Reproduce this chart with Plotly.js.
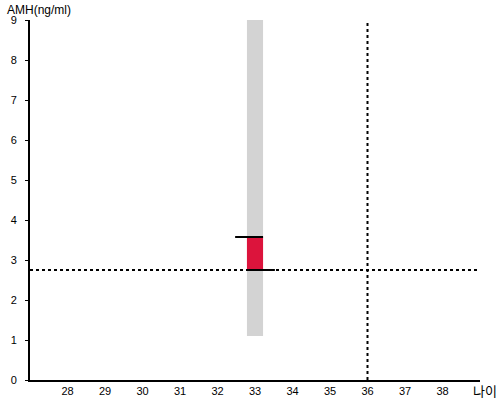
<!DOCTYPE html>
<html>
<head>
<meta charset="utf-8">
<script src="https://cdn.plot.ly/plotly-3.0.1.min.js"></script>
<style>html,body{margin:0;padding:0;background:#fff}#chart{width:500px;height:400px}</style>
</head>
<body>
<div id="chart"></div>
<script>
// Data
const ageTicks = [28, 29, 30, 31, 32, 33, 34, 35, 36, 37, 38];
const amhTicks = [0, 1, 2, 3, 4, 5, 6, 7, 8, 9];
const rangeAge = [33];
const rangeLow = [1.1];
const rangeHigh = [9];
const valueAge = [33];
const valueLow = [2.75];
const valueHigh = [3.575];
const refAge = [36];
const refAMH = [2.75];

const barW = 0.43;
const tick = 0.53;
const traces = [
  {type: 'bar', x: rangeAge, base: rangeLow, y: rangeHigh.map((h, i) => h - rangeLow[i]),
   width: barW, marker: {color: '#d3d3d3', line: {width: 0}}, hoverinfo: 'skip'},
  {type: 'bar', x: valueAge, base: valueLow, y: valueHigh.map((h, i) => h - valueLow[i]),
   width: barW, marker: {color: '#dc143c', line: {width: 0}}, hoverinfo: 'skip'},
  // top marker segment (extends left)
  {type: 'scatter', mode: 'lines', x: [valueAge[0] - tick, valueAge[0] + barW / 2], y: [valueHigh[0], valueHigh[0]],
   line: {color: '#000', width: 2}},
  // bottom marker segment (extends right)
  {type: 'scatter', mode: 'lines', x: [valueAge[0] - barW / 2, valueAge[0] + tick], y: [valueLow[0], valueLow[0]],
   line: {color: '#000', width: 2}},
  // reference dotted lines
  {type: 'scatter', mode: 'lines', x: [27, 39], y: [refAMH[0], refAMH[0]],
   line: {color: '#000', width: 2, dash: 'dot'}},
  {type: 'scatter', mode: 'lines', x: [refAge[0], refAge[0]], y: [0, 9],
   line: {color: '#000', width: 2, dash: 'dot'}}
];

const layout = {
  width: 500, height: 400,
  margin: {l: 30, r: 20, t: 20, b: 20},
  showlegend: false,
  barmode: 'overlay',
  paper_bgcolor: '#fff', plot_bgcolor: '#fff',
  font: {family: 'Liberation Sans, Arial, sans-serif', size: 11, color: '#000'},
  xaxis: {range: [27, 39], tickvals: ageTicks, ticktext: ageTicks.map(String),
          showgrid: false, zeroline: false, showline: true, linecolor: '#000', linewidth: 2,
          ticks: '', fixedrange: true},
  yaxis: {range: [0, 9], tickvals: amhTicks, ticktext: amhTicks.map(String),
          showgrid: false, zeroline: false, showline: true, linecolor: '#000', linewidth: 2,
          ticks: 'outside', ticklen: 3, tickcolor: '#000', ticklabelstandoff: 6, fixedrange: true},
  annotations: [
    {text: 'AMH(ng/ml)', xref: 'paper', yref: 'paper', x: -0.056, y: 1.028, xanchor: 'left', yanchor: 'middle',
     showarrow: false, font: {size: 12}},
    {text: '나이', xref: 'paper', yref: 'paper', x: 1.042, y: -0.03, xanchor: 'right', yanchor: 'middle',
     showarrow: false, font: {size: 13, family: 'Noto Sans CJK KR'}}
  ]
};
Plotly.newPlot('chart', traces, layout, {displayModeBar: false, staticPlot: true});
</script>
</body>
</html>
